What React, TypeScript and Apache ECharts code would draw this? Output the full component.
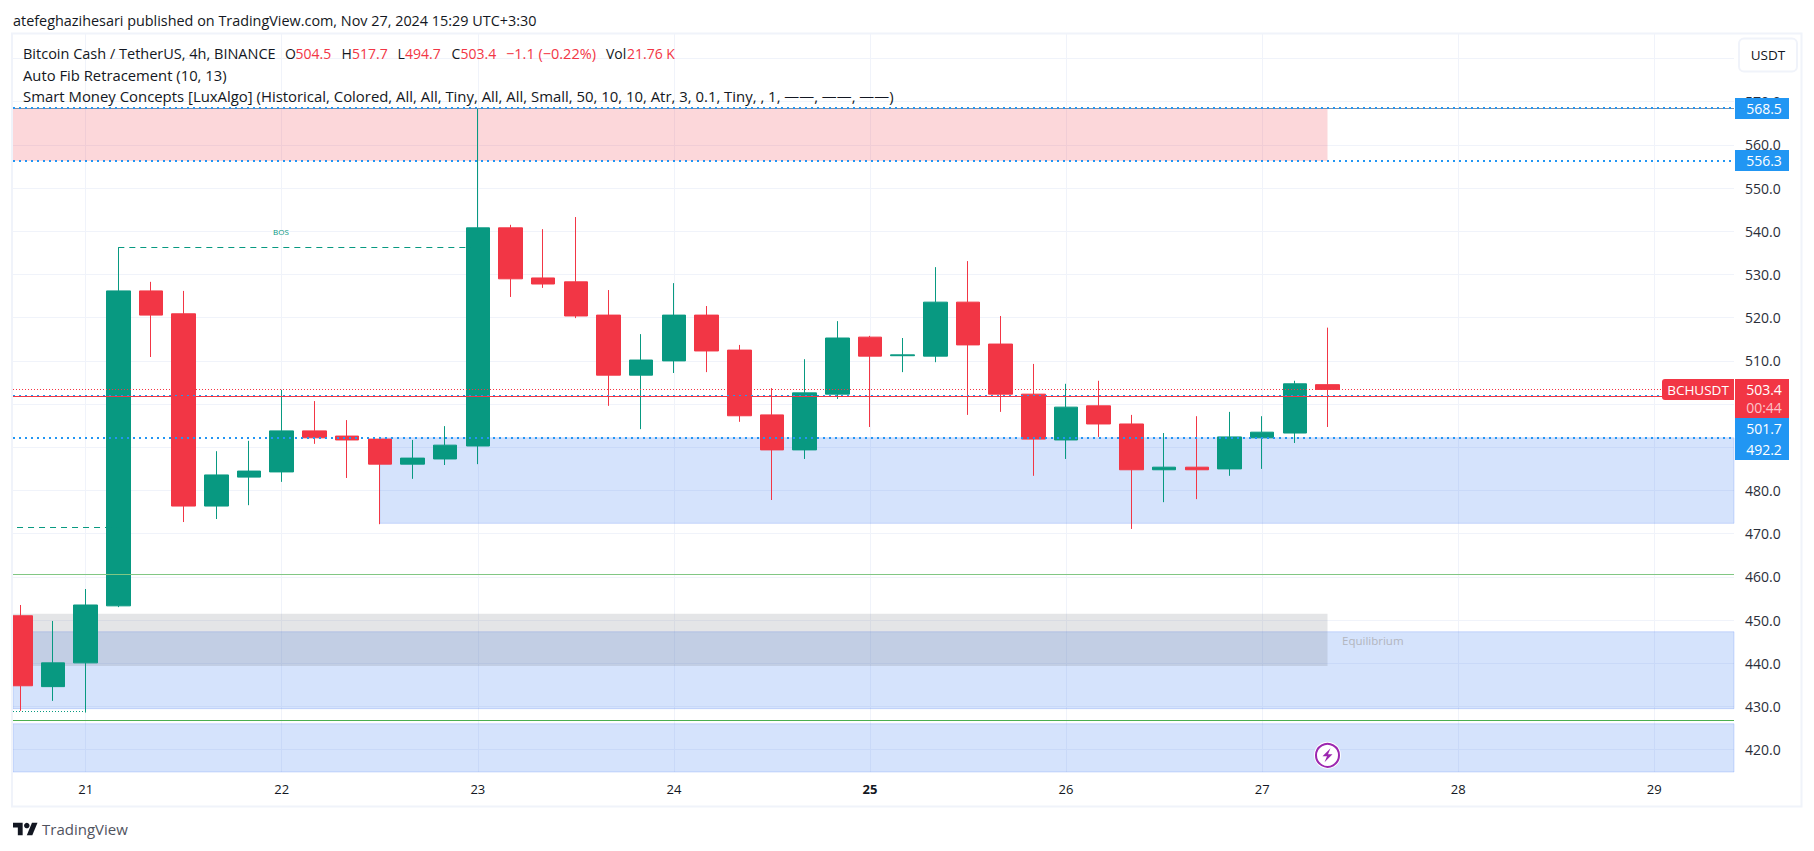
import React, { useEffect, useRef } from "react";
import * as echarts from "echarts";

const opens = [451, 434.6, 440.1, 453.3, 526.2, 520.9, 476.4, 483.1, 484.3, 493.8, 492.6, 491.9, 486.1, 487.3, 490.3, 540.8, 529.2, 528.3, 520.6, 506.7, 510, 520.6, 512.5, 497.5, 489.4, 502.3, 515.5, 511.2, 511.1, 523.6, 513.9, 502.3, 491.7, 499.6, 495.4, 484.8, 485.4, 485, 492.2, 493.3, 504.5];
const closes = [434.8, 440.1, 453.5, 526.2, 520.6, 476.4, 483.6, 484.5, 493.8, 492.2, 491.7, 486.1, 487.5, 490.5, 540.8, 529, 527.8, 520.4, 506.7, 510.2, 520.6, 512.3, 497.3, 489.4, 502.6, 515.3, 511.1, 511.4, 523.6, 513.7, 502.3, 491.9, 499.3, 495.4, 484.8, 485.4, 484.8, 492.4, 493.5, 504.7, 503.4];
const lows = [429, 431.3, 428.6, 453, 510.9, 472.7, 473.4, 476.6, 482, 490.8, 482.9, 472.2, 482.7, 485.9, 486.1, 524.8, 526.9, 519.9, 499.6, 494.2, 507.2, 507.4, 495.9, 477.8, 487.3, 501.2, 494.7, 507.4, 509.7, 497.5, 498.2, 483.4, 487.3, 492.4, 471.1, 477.3, 478, 483.4, 485, 491, 494.7];
const highs = [453.5, 449.8, 457.2, 536.3, 528.3, 526.2, 489.1, 491.5, 503.3, 500.7, 496.3, 492.4, 491.7, 494.9, 568.5, 541.5, 540.5, 543.3, 526.4, 516.2, 528, 522.7, 513.7, 503.7, 510.4, 519.2, 515.8, 515.3, 531.7, 533.1, 520.4, 509.3, 504.7, 505.4, 497.5, 493.3, 497.2, 498.2, 497.2, 505.4, 517.7];

const dayLabels = ["21", "22", "23", "24", "25", "26", "27", "28", "29"];
const dayIndexes = [2, 8, 14, 20, 26, 32, 38, 44, 50];
const priceLabels = [420, 430, 440, 450, 460, 470, 480, 510, 520, 530, 540, 550, 560, 570];
const gridOnlyTicks = [490, 500, 580];

const X_MIN = -0.2234;
const X_MAX = 52.439;
const Y_MIN = 414.84;
const Y_MAX = 585.67;
const LAST = 40;

const RED = "#F23645";
const GREEN = "#089981";
const BLUE = "#2196F3";
const GRID = "#F0F3FA";
const TEXT = "#131722";
const FONT = "'Open Sans'";

// zone: [x0, x1, top, bottom]
const redZones = [[X_MIN, LAST, 568.5, 556.3]];
const blueZones = [
  [11, X_MAX, 492.2, 472.4],
  [X_MIN, X_MAX, 447.3, 429.5],
  [X_MIN, X_MAX, 426, Y_MIN],
];
const greyZones = [[X_MIN, LAST, 451.5, 439.4]];

const area = (z: number[], itemStyle: any) => [
  { coord: [z[0], z[2]], itemStyle },
  { coord: [z[1], z[3]] },
];
const seg = (x0: number, x1: number, y: number, lineStyle: any) => [
  { coord: [x0, y], lineStyle, symbol: "none" },
  { coord: [x1, y], symbol: "none" },
];

function text(t: string, x: number, y: number, o: any = {}) {
  return {
    type: "text",
    x,
    y,
    z: 100,
    silent: true,
    style: {
      text: t,
      fill: o.fill ?? TEXT,
      font: `${o.weight ?? "normal"} ${o.size ?? 14}px ${FONT}`,
      textAlign: o.align ?? "left",
      textVerticalAlign: "middle",
      textBaseline: "middle",
    },
  };
}
const box = (x: number, y: number, w: number, h: number, fill: string, r: any = 0) => ({
  type: "rect",
  z: 99,
  silent: true,
  shape: { x, y, width: w, height: h, r },
  style: { fill },
});

export default function App() {
  const ref = useRef<HTMLDivElement>(null);
  useEffect(() => {
    const chart = echarts.init(ref.current!, undefined, { renderer: "svg" });
    const logoScale = 0.69;
    const s = (a: number) => a * logoScale;
    const lx = 13;
    const ly = 820;
    const ix = 1327.5;
    const iy = 755.3;
    chart.setOption({
      animation: false,
      backgroundColor: "#ffffff",
      grid: { left: 13, right: 80, top: 34, bottom: 79 },
      xAxis: {
        type: "value",
        min: X_MIN,
        max: X_MAX,
        axisLine: { show: false },
        axisTick: { show: false, customValues: dayIndexes },
        splitLine: { show: true, lineStyle: { color: GRID, width: 1 } },
        axisLabel: {
          customValues: dayIndexes,
          margin: 10,
          color: TEXT,
          fontFamily: FONT,
          fontSize: 13,
          formatter: (v: number) => {
            const l = dayLabels[dayIndexes.indexOf(v)];
            return l === "25" ? `{b|${l}}` : l;
          },
          rich: { b: { fontWeight: "bold", fontFamily: FONT, fontSize: 13, color: TEXT } },
        },
      },
      yAxis: {
        type: "value",
        position: "right",
        min: Y_MIN,
        max: Y_MAX,
        axisLine: { show: false },
        axisTick: { show: false, customValues: [...priceLabels, ...gridOnlyTicks] },
        splitLine: { show: true, lineStyle: { color: GRID, width: 1 } },
        axisLabel: {
          customValues: priceLabels,
          margin: 11,
          color: "#2A2E39",
          fontFamily: FONT,
          fontSize: 14,
          formatter: (v: number) => v.toFixed(1),
        },
      },
      series: [
        {
          type: "line",
          data: [],
          z: 1,
          silent: true,
          markArea: {
            silent: true,
            label: { show: false },
            data: [
              ...redZones.map((z) => area(z, { color: "rgba(242,54,69,0.2)" })),
              ...blueZones.map((z) =>
                area(z, { color: "rgba(45,115,240,0.2)", borderColor: "rgba(45,100,240,0.2)", borderWidth: 1 })
              ),
              ...greyZones.map((z) => area(z, { color: "rgba(120,123,134,0.2)" })),
            ],
          },
          markLine: {
            silent: true,
            symbol: "none",
            label: { show: false },
            data: [
              seg(X_MIN, X_MAX, 568.5, { color: "#7C8FA8", width: 1, type: "solid" }),
              seg(X_MIN, X_MAX, 568.5, { color: BLUE, width: 2, type: [2, 4] }),
              seg(X_MIN, X_MAX, 556.3, { color: BLUE, width: 2, type: [2, 4] }),
              seg(X_MIN, X_MAX, 492.2, { color: BLUE, width: 2, type: [2, 4] }),
              seg(X_MIN, X_MAX, 502.05, { color: BLUE, width: 1, type: [2, 4] }),
              seg(X_MIN, X_MAX, 501.75, { color: RED, width: 1, type: "solid" }),
              seg(X_MIN, X_MAX, 503.4, { color: RED, width: 1, type: [1, 2] }),
              seg(X_MIN, X_MAX, 460.6, { color: "#81C784", width: 1, type: "solid" }),
              seg(X_MIN, X_MAX, 426.8, { color: "#4CAF50", width: 1, type: "solid" }),
              seg(3, 14, 536.3, { color: GREEN, width: 1, type: [6, 5] }),
              seg(-0.1, 3, 471.5, { color: GREEN, width: 1, type: [6, 5] }),
              seg(X_MIN, 2, 428.8, { color: GREEN, width: 1, type: [1, 2] }),
            ],
          },
        },
        {
          type: "candlestick",
          z: 3,
          barWidth: 24,
          encode: { x: 0, y: [1, 2, 3, 4] },
          data: opens.map((o, i) => [i, o, closes[i], lows[i], highs[i]]),
          itemStyle: {
            color: GREEN,
            color0: RED,
            borderColor: GREEN,
            borderColor0: RED,
            borderWidth: 1,
          },
        },
      ],
      graphic: {
        elements: [
          { type: "rect", z: 97, silent: true, shape: { x: 0, y: 34, width: 12, height: 740 }, style: { fill: "#ffffff" } },
          {
            type: "rect",
            z: 98,
            silent: true,
            shape: { x: 12, y: 33.5, width: 1789.5, height: 773 },
            style: { fill: "none", stroke: GRID, lineWidth: 2 },
          },
          text("atefeghazihesari published on TradingView.com, Nov 27, 2024 15:29 UTC+3:30", 13, 20, { size: 14.4 }),
          text("Bitcoin Cash / TetherUS, 4h, BINANCE", 23, 53.5, { size: 14.5 }),
          text("O", 285, 53.5),
          text("504.5", 295.5, 53.5, { fill: RED }),
          text("H", 341.5, 53.5),
          text("517.7", 352, 53.5, { fill: RED }),
          text("L", 397.5, 53.5),
          text("494.7", 405, 53.5, { fill: RED }),
          text("C", 451.5, 53.5),
          text("503.4", 460.5, 53.5, { fill: RED }),
          text("−1.1 (−0.22%)", 506, 53.5, { fill: RED, size: 14.5 }),
          text("Vol", 606, 53.5),
          text("21.76 K", 627, 53.5, { fill: RED }),
          text("Auto Fib Retracement (10, 13)", 23, 75, { size: 14.8 }),
          text(
            "Smart Money Concepts [LuxAlgo] (Historical, Colored, All, All, Tiny, All, All, Small, 50, 10, 10, Atr, 3, 0.1, Tiny, , 1, ——, ——, ——)",
            23,
            96,
            { size: 14.9 }
          ),
          text("BOS", 281, 231, { fill: GREEN, size: 8, align: "center" }),
          text("Equilibrium", 1342, 640, { fill: "#B2B5BE", size: 11.5 }),
          {
            type: "rect",
            z: 99,
            silent: true,
            shape: { x: 1739, y: 38.5, width: 58, height: 33, r: 5 },
            style: { fill: "#ffffff", stroke: GRID, lineWidth: 2 },
          },
          text("USDT", 1768, 54.5, { align: "center", size: 13.5 }),
          box(1735, 98, 54, 21, BLUE),
          text("568.5", 1764, 108.7, { fill: "#ffffff", align: "center" }),
          box(1735, 150, 54, 21, BLUE),
          text("556.3", 1764, 160.7, { fill: "#ffffff", align: "center" }),
          box(1662, 379, 72, 21, RED, [3, 0, 0, 3]),
          text("BCHUSDT", 1698, 389.5, { fill: "#ffffff", align: "center", size: 13.5 }),
          box(1735, 379, 54, 39, RED),
          text("503.4", 1764, 389.5, { fill: "#ffffff", align: "center" }),
          text("00:44", 1764, 407.5, { fill: "#FBC4C9", align: "center" }),
          box(1735, 418, 54, 42, BLUE),
          text("501.7", 1764, 428.5, { fill: "#ffffff", align: "center" }),
          text("492.2", 1764, 449.5, { fill: "#ffffff", align: "center" }),
          { type: "circle", z: 99, silent: true, shape: { cx: ix, cy: iy, r: 13.5 }, style: { fill: "#ffffff" } },
          {
            type: "circle",
            z: 100,
            silent: true,
            shape: { cx: ix, cy: iy, r: 11.5 },
            style: { fill: "#ffffff", stroke: "#9C27B0", lineWidth: 2 },
          },
          {
            type: "polygon",
            z: 101,
            silent: true,
            shape: {
              points: [
                [ix + 3, iy - 7],
                [ix - 5, iy + 1],
                [ix - 0.5, iy + 1],
                [ix - 3, iy + 7],
                [ix + 5, iy - 1],
                [ix + 0.5, iy - 1],
              ],
            },
            style: { fill: "#9C27B0" },
          },
          {
            type: "polygon",
            z: 100,
            silent: true,
            shape: {
              points: [
                [lx, ly + s(4)],
                [lx + s(14), ly + s(4)],
                [lx + s(14), ly + s(22)],
                [lx + s(7), ly + s(22)],
                [lx + s(7), ly + s(11)],
                [lx, ly + s(11)],
              ],
            },
            style: { fill: TEXT },
          },
          {
            type: "polygon",
            z: 100,
            silent: true,
            shape: {
              points: [
                [lx + s(27.5), ly + s(4)],
                [lx + s(35.5), ly + s(4)],
                [lx + s(28), ly + s(22)],
                [lx + s(20), ly + s(22)],
              ],
            },
            style: { fill: TEXT },
          },
          { type: "circle", z: 100, silent: true, shape: { cx: lx + s(20), cy: ly + s(8), r: s(4) }, style: { fill: TEXT } },
          text("TradingView", 42, 829, { size: 15, fill: "#50535E" }),
        ],
      },
    });
    return () => chart.dispose();
  }, []);
  return <div ref={ref} style={{ position: "fixed", left: 0, top: 0, width: 1814, height: 851 }} />;
}
